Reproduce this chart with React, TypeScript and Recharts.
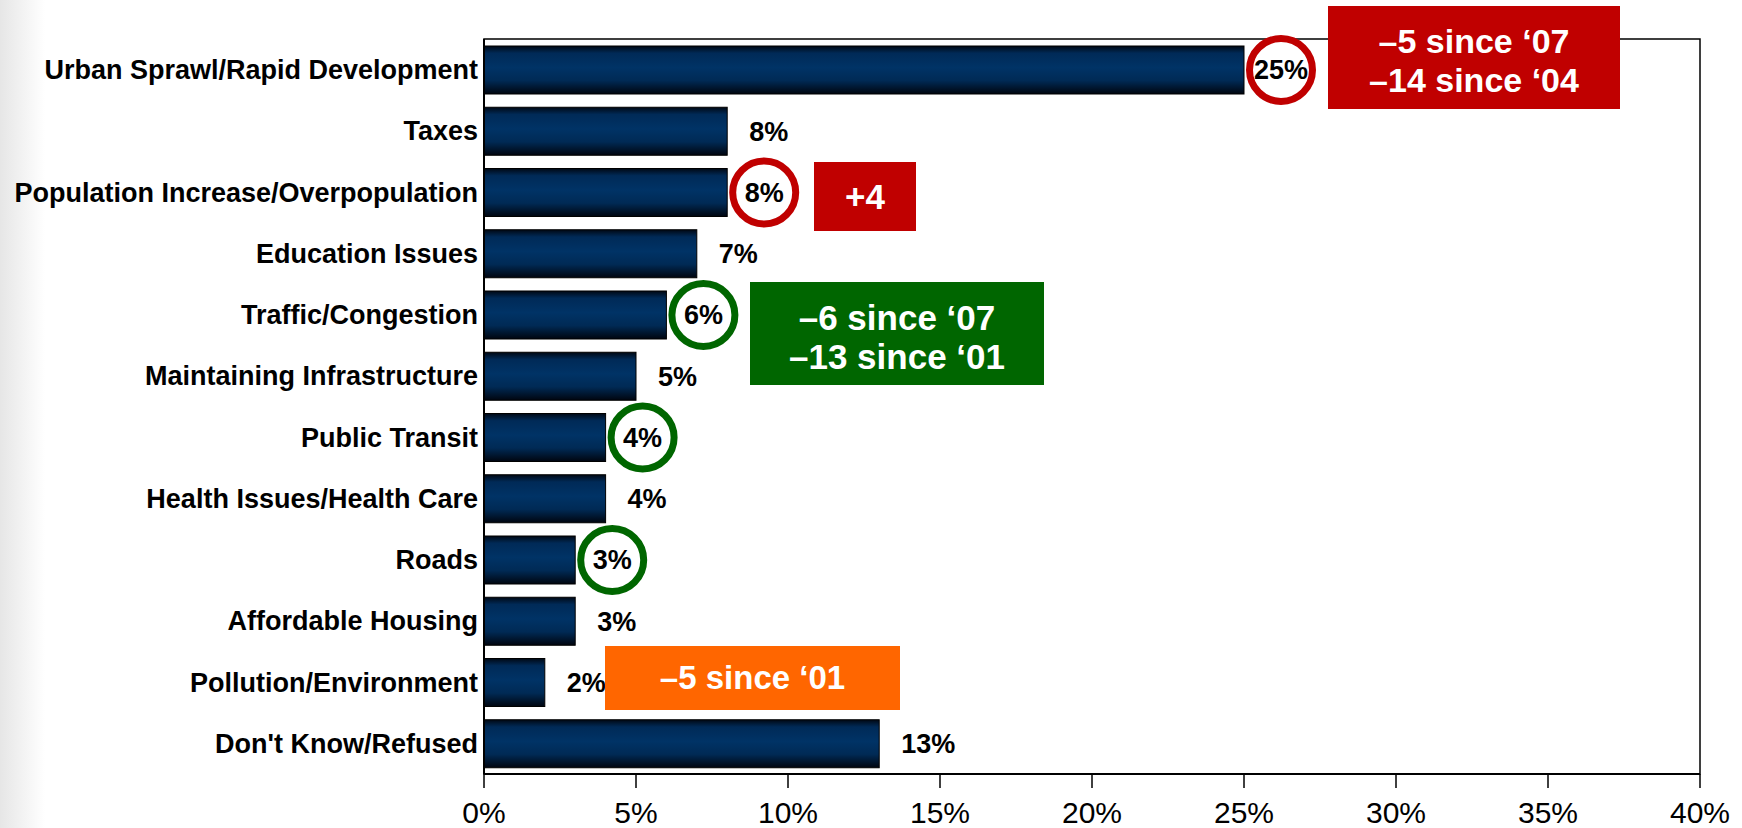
import type { FC } from 'react';
import { BarChart, Bar, XAxis, YAxis, ReferenceArea } from 'recharts';

const categories = [
    'Urban Sprawl/Rapid Development',
    'Taxes',
    'Population Increase/Overpopulation',
    'Education Issues',
    'Traffic/Congestion',
    'Maintaining Infrastructure',
    'Public Transit',
    'Health Issues/Health Care',
    'Roads',
    'Affordable Housing',
    'Pollution/Environment',
    "Don't Know/Refused",
];
const values = [25, 8, 8, 7, 6, 5, 4, 4, 3, 3, 2, 13];
// ring colour around the value label, null = plain label
const rings: (string | null)[] = ['#C00000', null, '#C00000', null, '#006600', null, '#006600', null, '#006600', null, null, null];
const xTicks = [0, 5, 10, 15, 20, 25, 30, 35, 40];

const callouts = [
    { lines: ['\u20135 since \u201807', '\u201314 since \u201804'], color: '#C00000', left: 1328, top: 6, width: 292, height: 103, size: 34 },
    { lines: ['+4'], color: '#C00000', left: 814, top: 162, width: 102, height: 69, size: 35 },
    { lines: ['\u20136 since \u201807', '\u201313 since \u201801'], color: '#006600', left: 750, top: 282, width: 294, height: 103, size: 35 },
    { lines: ['\u20135 since \u201801'], color: '#FF6600', left: 605, top: 646, width: 295, height: 64, size: 33 },
];

const FONT = '"Liberation Sans", Arial, sans-serif';

const data = categories.map((name, i) => ({ name, value: values[i], ring: rings[i] }));

const BarShape = (props: any) => {
    const { x, y, width, height, payload } = props;
    const cy = y + height / 2;
    const end = x + width;
    const label = `${payload.value}%`;
    return (
        <g>
            <rect x={x} y={y} width={width} height={height} fill="url(#barGrad)" stroke="#000" strokeWidth={1} />
            {payload.ring ? (
                <g>
                    <circle cx={end + 37} cy={cy} r={31.5} fill="#fff" stroke={payload.ring} strokeWidth={7} />
                    <text x={end + 37} y={cy} dy="0.35em" textAnchor="middle" fontSize={27} fontWeight="bold" fontFamily={FONT} fill="#000">
                        {label}
                    </text>
                </g>
            ) : (
                <text x={end + 22} y={cy} dy="0.35em" textAnchor="start" fontSize={27} fontWeight="bold" fontFamily={FONT} fill="#000">
                    {label}
                </text>
            )}
        </g>
    );
};

const App: FC = () => {
    return (
        <div style={{ position: 'absolute', left: 0, top: 0, width: 1742, height: 828, background: 'linear-gradient(to right, #e6e6e6 0px, #ffffff 45px)', fontFamily: FONT }}>
            <BarChart
                width={1742}
                height={828}
                data={data}
                layout="vertical"
                margin={{ top: 39, right: 42, bottom: 0, left: 0 }}
                barSize={48}
            >
                <defs>
                    <linearGradient id="barGrad" x1="0" y1="0" x2="0" y2="1">
                        <stop offset="0%" stopColor="#000814" />
                        <stop offset="15%" stopColor="#002a57" />
                        <stop offset="45%" stopColor="#003366" />
                        <stop offset="72%" stopColor="#002a55" />
                        <stop offset="100%" stopColor="#00050f" />
                    </linearGradient>
                </defs>
                <ReferenceArea x1={0} x2={40} fill="#fff" fillOpacity={0.6} stroke="#000" strokeWidth={1.5} ifOverflow="visible" />
                <XAxis
                    type="number"
                    domain={[0, 40]}
                    ticks={xTicks}
                    tickFormatter={(v) => `${v}%`}
                    height={54}
                    tickSize={14}
                    tickMargin={14}
                    axisLine={{ stroke: '#000', strokeWidth: 2 }}
                    tickLine={{ stroke: '#000', strokeWidth: 1.5 }}
                    tick={{ fontSize: 30, fill: '#000', fontFamily: FONT }}
                    interval={0}
                />
                <YAxis
                    type="category"
                    dataKey="name"
                    width={484}
                    tickSize={0}
                    tickMargin={6}
                    axisLine={{ stroke: '#000', strokeWidth: 2 }}
                    tickLine={false}
                    tick={{ fontSize: 27, fontWeight: 'bold', fill: '#000', fontFamily: FONT }}
                    interval={0}
                />
                <Bar dataKey="value" shape={<BarShape />} isAnimationActive={false} />
            </BarChart>
            {callouts.map((c, i) => (
                <div
                    key={i}
                    style={{
                        position: 'absolute',
                        left: c.left,
                        top: c.top,
                        width: c.width,
                        height: c.height,
                        background: c.color,
                        color: '#fff',
                        fontWeight: 'bold',
                        fontSize: c.size,
                        lineHeight: c.lines.length > 1 ? '39px' : '38px',
                        display: 'flex',
                        flexDirection: 'column',
                        justifyContent: 'center',
                        alignItems: 'center',
                        boxSizing: 'border-box',
                        paddingTop: c.lines.length > 1 ? 6 : 0,
                    }}
                >
                    {c.lines.map((l, j) => (
                        <div key={j}>{l}</div>
                    ))}
                </div>
            ))}
        </div>
    );
};

export default App;
